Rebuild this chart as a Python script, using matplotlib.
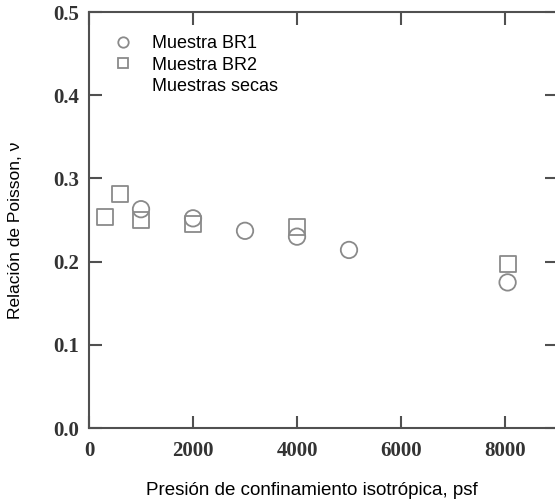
import matplotlib
matplotlib.use("Agg")
import matplotlib.pyplot as plt
from matplotlib.lines import Line2D

br1_x = [1000, 2000, 3000, 4000, 5000, 8050]
br1_y = [0.263, 0.252, 0.237, 0.230, 0.214, 0.175]
br2_x = [300, 600, 1000, 2000, 4000, 8050]
br2_y = [0.254, 0.281, 0.250, 0.245, 0.242, 0.197]
xticks = [0, 2000, 4000, 6000, 8000]
yticks = [0.0, 0.1, 0.2, 0.3, 0.4, 0.5]

gray = "#8a8a8a"
spine = "#505050"

fig = plt.figure(figsize=(5.55, 5.0), dpi=100)
ax = fig.add_axes([0.1604, 0.144, 0.8432, 0.832])
ax.scatter(br1_x, br1_y, marker="o", s=140, facecolors="none", edgecolors=gray, linewidths=1.3, zorder=3)
ax.scatter(br2_x, br2_y, marker="s", s=130, facecolors="none", edgecolors=gray, linewidths=1.3, zorder=3)

ax.set_xlim(0, 9000)
ax.set_ylim(0, 0.5)
ax.set_xticks(xticks)
ax.set_yticks(yticks)
ax.set_xticklabels([str(v) for v in xticks], fontfamily="Liberation Serif", fontweight="bold", fontsize=15, color="#333333")
ax.set_yticklabels([f"{v:.1f}" for v in yticks], fontfamily="Liberation Serif", fontweight="bold", fontsize=15, color="#333333")
ax.tick_params(direction="in", length=9, width=1.5, color=spine, top=True, right=True)
ax.tick_params(axis="x", pad=9)
ax.tick_params(axis="y", pad=7)
for s in ax.spines.values():
    s.set_color(spine)
    s.set_linewidth(1.5)

ax.set_xlabel("Presión de confinamiento isotrópica, psf", fontfamily="Liberation Sans", fontsize=13.5)
ax.set_ylabel("Relación de Poisson, ν", fontfamily="Liberation Sans", fontsize=12.5)
ax.xaxis.set_label_coords(0.476, -0.129)
ax.yaxis.set_label_coords(-0.141, 0.476)

handles = [
    Line2D([], [], marker="o", linestyle="none", markersize=7.5, markerfacecolor="none", markeredgecolor=gray, markeredgewidth=1.3),
    Line2D([], [], marker="s", linestyle="none", markersize=7, markerfacecolor="none", markeredgecolor=gray, markeredgewidth=1.3),
    Line2D([], [], linestyle="none"),
]
leg = ax.legend(handles, ["Muestra BR1", "Muestra BR2", "Muestras secas"], loc="upper left",
                bbox_to_anchor=(0.014, 0.975), frameon=False, prop={"family": "Liberation Sans", "size": 13},
                handletextpad=0.8, handlelength=1.6, labelspacing=0.25, borderaxespad=0.3)

fig.savefig("out.png", dpi=100)
